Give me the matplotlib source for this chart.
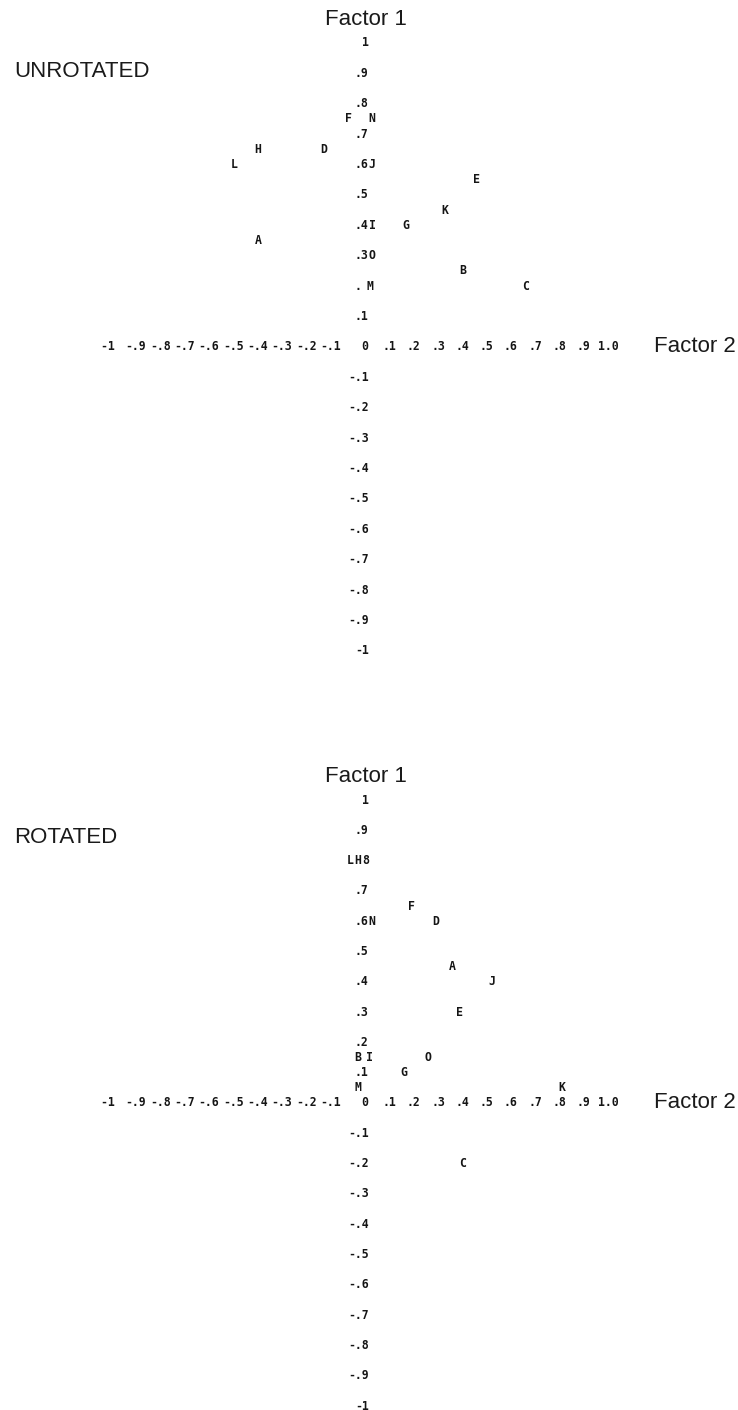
import matplotlib.pyplot as plt

# factor loadings (x = factor 2, y = factor 1)
unrot_names = ["F", "N", "H", "D", "L", "J", "E", "K", "I", "G", "A", "O", "B", "M", "C"]
unrot_f2 = [-0.07, 0.03, -0.44, -0.17, -0.54, 0.03, 0.46, 0.33, 0.03, 0.17, -0.44, 0.03, 0.40, 0.02, 0.66]
unrot_f1 = [0.75, 0.75, 0.65, 0.65, 0.60, 0.60, 0.55, 0.45, 0.40, 0.40, 0.35, 0.30, 0.25, 0.20, 0.20]

rot_names = ["L", "H", "F", "N", "D", "A", "J", "E", "B", "I", "O", "G", "M", "K", "C"]
rot_f2 = [-0.06, -0.03, 0.19, 0.03, 0.29, 0.36, 0.52, 0.39, -0.03, 0.02, 0.26, 0.16, -0.03, 0.81, 0.40]
rot_f1 = [0.80, 0.80, 0.65, 0.60, 0.60, 0.45, 0.40, 0.30, 0.15, 0.15, 0.15, 0.10, 0.05, 0.05, -0.20]

x_ticks = [-1.0, -0.9, -0.8, -0.7, -0.6, -0.5, -0.4, -0.3, -0.2, -0.1,
           0.0, 0.1, 0.2, 0.3, 0.4, 0.5, 0.6, 0.7, 0.8, 0.9, 1.0]
x_tick_labels = ["-1 ", "-.9", "-.8", "-.7", "-.6", "-.5", "-.4", "-.3", "-.2", "-.1",
                 "0", ".1", ".2", ".3", ".4", ".5", ".6", ".7", ".8", ".9", "1.0"]

y_ticks = [1.0, 0.9, 0.8, 0.7, 0.6, 0.5, 0.4, 0.3, 0.2, 0.1,
           -0.1, -0.2, -0.3, -0.4, -0.5, -0.6, -0.7, -0.8, -0.9, -1.0]
neg_y_labels = ["-.1", "-.2", "-.3", "-.4", "-.5", "-.6", "-.7", "-.8", "-.9", "-1"]
unrot_y_labels = ["1", ".9", ".8", ".7", ".6", ".5", ".4", ".3", ". ", ".1"] + neg_y_labels
rot_y_labels = ["1", ".9", "8", ".7", ".6", ".5", ".4", ".3", ".2", ".1"] + neg_y_labels

PX_PER_UNIT_X = 243
X0_PX = 365
mono = dict(family="DejaVu Sans Mono", fontweight="bold", fontsize=8.3, color="#151515")
sans = dict(family="Liberation Sans", fontsize=16, color="#1a1a1a")


def setup_axes(rect, zero_px, px_per_unit_y, top_px, bottom_px):
    ax = fig.add_axes(rect)
    ax.set_xlim((0 - X0_PX) / PX_PER_UNIT_X, (738 - X0_PX) / PX_PER_UNIT_X)
    ax.set_ylim((zero_px - bottom_px) / px_per_unit_y, (zero_px - top_px) / px_per_unit_y)
    ax.axis("off")
    return ax


def draw_panel(ax, title, names, f2, f1, y_labels, title_y):
    label_right = 0.015  # right edge of the printed factor 1 column
    for v, lab in zip(x_ticks, x_tick_labels):
        ha = "right" if v < 0 else "center"
        ax.text(v, 0, lab, ha=ha, va="center", **mono)
    for v, lab in zip(y_ticks, y_labels):
        ax.text(label_right, v, lab, ha="right", va="center", **mono)
    for name, x, y in zip(names, f2, f1):
        ax.text(x, y, name, ha="center", va="center", **mono)
    ax.text(0.005, 1.076, "Factor 1", ha="center", va="center", **sans)
    ax.text(1.19, 0, "Factor 2", ha="left", va="center", **sans)
    ax.text(-1.445, title_y, title, ha="left", va="center", **sans)


fig = plt.figure(figsize=(7.38, 14.10), dpi=100)
fig.patch.set_facecolor("white")

ax_top = setup_axes([0, 0.5, 1, 0.5], 347, 304, 0, 705)
draw_panel(ax_top, "UNROTATED", unrot_names, unrot_f2, unrot_f1, unrot_y_labels, 0.905)

ax_bot = setup_axes([0, 0, 1, 0.5], 1103, 303, 705, 1410)
draw_panel(ax_bot, "ROTATED", rot_names, rot_f2, rot_f1, rot_y_labels, 0.875)

plt.savefig("out.png", dpi=100, facecolor="white")
plt.close()
